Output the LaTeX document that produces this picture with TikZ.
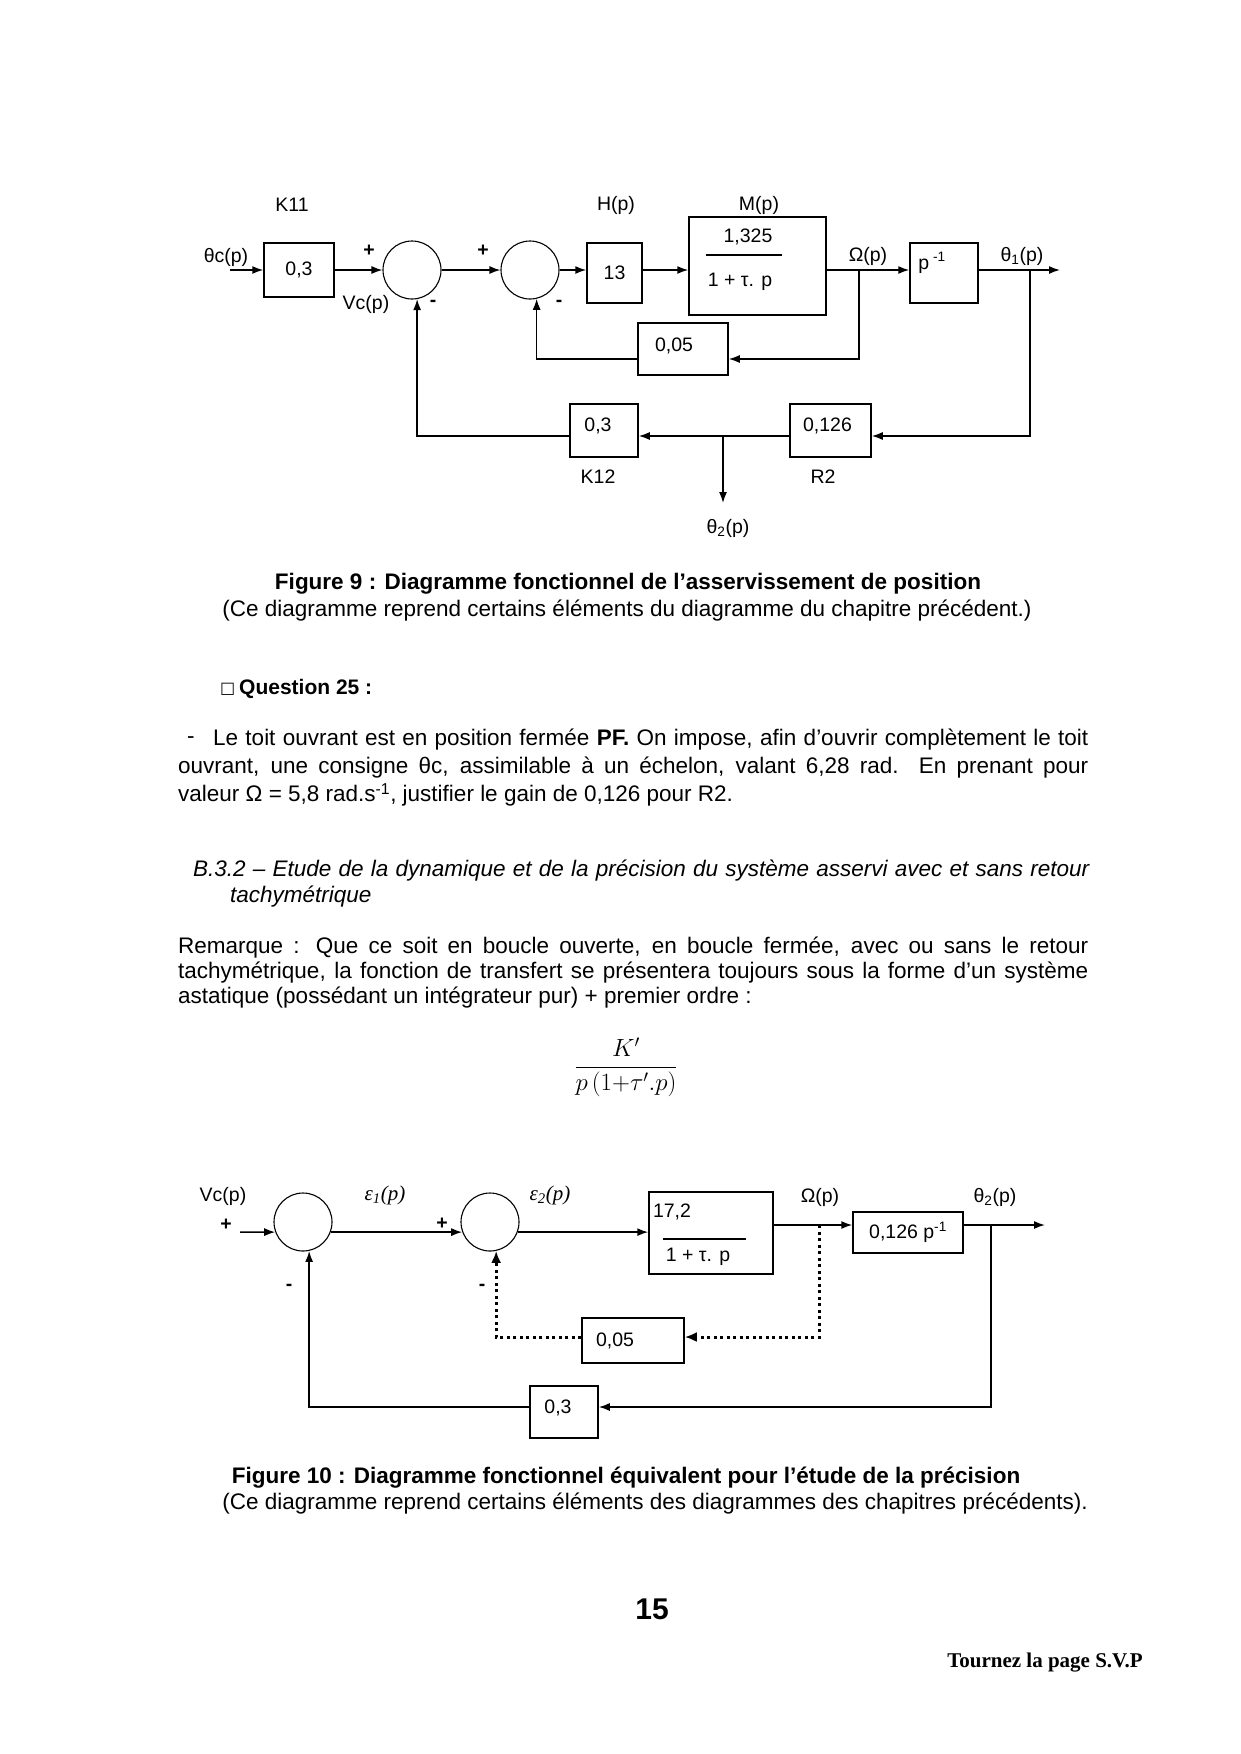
\documentclass[tikz,border=0pt]{standalone}
\usepackage{fontspec}
\setmainfont{Liberation Sans}
\newfontfamily\tnr{Liberation Serif}
\newfontfamily\dvs{DejaVu Sans}
\usetikzlibrary{arrows.meta}
\newcommand\lblf{\fontsize{19.5}{22}\selectfont}
\newcommand\bodyf{\fontsize{22.5}{26}\selectfont}
\tikzset{
  blk/.style={draw, line width=1.5pt, inner sep=0pt, font=\lblf},
  sumc/.style={draw, circle, line width=1.1pt, minimum size=58pt, inner sep=0pt},
  arr/.style={line width=1.5pt, -{Latex[length=11pt,width=8pt]}},
  darr/.style={line width=3pt, dash pattern=on 3pt off 3.5pt, -{Latex[length=12pt,width=10pt]}},
  lab/.style={inner sep=0pt, font=\lblf},
  eps/.style={inner sep=0pt, font=\tnr\itshape\fontsize{21}{24}\selectfont},
  sgn/.style={inner sep=0pt, font=\lblf\bfseries},
  txt/.style={inner sep=0pt, anchor=west, font=\bodyf},
  capt/.style={inner sep=0pt, font=\bodyf},
}
\begin{document}
\begin{tikzpicture}[x=1pt,y=-1pt]
\fill[white] (0,0) rectangle (1240,1754);
\useasboundingbox (0,0) rectangle (1240,1754);

% ---------------- Figure 9 ----------------
\node[blk, minimum width=70pt, minimum height=54pt] (K11) at (299,270) {0,3};
\node[sumc] (S1) at (412,270) {};
\node[sumc] (S2) at (530,270) {};
\node[blk, minimum width=55pt, minimum height=60pt] (H) at (614.5,273) {13};
\node[blk, minimum width=137pt, minimum height=98pt] (M) at (757.5,266) {};
\node[lab] (Mn) at (748,237) {1,325};
\node[lab] (Md) at (740,282) {1 + τ. p};
\draw[line width=1.8pt] (706,255) -- (782,255);
\node[blk, minimum width=68pt, minimum height=60pt,
      label={[lab, xshift=-12pt, yshift=10pt]center:p\textsuperscript{ -1}}] (P) at (944,273) {};
\node[blk, minimum width=90pt, minimum height=52pt,
      label={[lab, xshift=-9pt, yshift=3pt]center:0,05}] (F) at (683,349) {};
\node[blk, minimum width=81pt, minimum height=53pt,
      label={[lab, xshift=-3pt, yshift=5pt]center:0,126}] (R2) at (830.5,430.5) {};
\node[blk, minimum width=68pt, minimum height=53pt,
      label={[lab, xshift=-6pt, yshift=5pt]center:0,3}] (K12) at (604,430.5) {};

\node[lab] at (292,205) {K11};
\node[lab] at (616,205) {H(p)};
\node[lab] at (759,205) {M(p)};
\node[lab] at (226,257) {θc(p)};
\node[lab] at (366,304) {Vc(p)};
\node[lab] at (868,256) {Ω(p)};
\node[lab] at (1022,256) {θ\textsubscript{1}(p)};
\node[lab] at (598,477) {K12};
\node[lab] at (823,477) {R2};
\node[lab] at (728,528) {θ\textsubscript{2}(p)};
\node[sgn] at (369,251) {+};
\node[sgn] at (433,303) {-};
\node[sgn] at (483,251) {+};
\node[sgn] at (559,303) {-};

\coordinate (in0) at (230,270);
\coordinate (out1) at (1060,270);
\coordinate (t1) at (1030,270);
\coordinate (tw) at (859,270);
\coordinate (t2) at (723,436);
\coordinate (out2) at (723,503);
\coordinate (y9) at (0,270);
\coordinate (yr) at (0,436);
\coordinate (yv) at (0,359);

\draw[arr] (in0) -- (K11.west |- y9);
\draw[arr] (K11.east |- y9) -- (S1.west);
\draw[arr] (S1.east) -- (S2.west);
\draw[arr] (S2.east) -- (H.west |- y9);
\draw[arr] (H.east |- y9) -- (M.west |- y9);
\draw[arr] (M.east |- y9) -- (P.west |- y9);
\draw[arr] (P.east |- y9) -- (out1);
\draw[arr] (t1) |- (R2.east |- yr);
\draw[arr] (R2.west |- yr) -- (K12.east |- yr);
\draw[arr] (t2) -- (out2);
\draw[arr] (K12.west |- yr) -| (S1.-80);
\draw[arr] (tw) |- (F.east |- yv);
\draw[arr] (F.west |- yv) -| (S2.-77);

% ---------------- Texts ----------------
\node[capt, font=\bodyf\bfseries] at (628,584) {Figure 9 : Diagramme fonctionnel de l’asservissement de position};
\node[capt] at (627,611) {(Ce diagramme reprend certains éléments du diagramme du chapitre précédent.)};
\node[txt] at (220,689) {\dvs\fontsize{16}{18}\selectfont □};
\node[txt, font=\fontsize{21}{25}\selectfont\bfseries] at (239,689) {Question 25 :};
\node[txt] at (187,740) {-};
\node[txt] at (213,740) {\makebox[875pt][s]{Le toit ouvrant est en position fermée \textbf{PF.} On impose, afin d’ouvrir complètement le toit}};
\node[txt] at (178,768) {\makebox[910pt][s]{ouvrant, une consigne θc, assimilable à un échelon, valant 6,28 rad. En prenant pour}};
\node[txt] at (178,795) {valeur Ω = 5,8 rad.s\textsuperscript{-1}, justifier le gain de 0,126 pour R2.};
\node[txt, font=\bodyf\itshape] at (193,871) {\makebox[896pt][s]{B.3.2 – Etude de la dynamique et de la précision du système asservi avec et sans retour}};
\node[txt, font=\bodyf\itshape] at (230,897) {tachymétrique};
\node[txt] at (178,948) {\makebox[910pt][s]{Remarque : Que ce soit en boucle ouverte, en boucle fermée, avec ou sans le retour}};
\node[txt] at (178,973) {\makebox[910pt][s]{tachymétrique, la fonction de transfert se présentera toujours sous la forme d’un système}};
\node[txt] at (178,998) {astatique (possédant un intégrateur pur) + premier ordre :};
\node[inner sep=0pt] (frm) at (626,1067) {\fontsize{26}{30}\selectfont $\displaystyle\frac{K'}{p\,(1{+}\tau'.p)}$};

% ---------------- Figure 10 ----------------
\node[sumc] (A) at (303,1222) {};
\node[sumc] (B) at (490,1222) {};
\node[blk, minimum width=124pt, minimum height=82pt] (G) at (711,1233) {};
\node[lab] (Gn) at (672,1212) {17,2};
\node[lab] (Gd) at (698,1257) {1 + τ. p};
\draw[line width=1.8pt] (663,1239) -- (746,1239);
\node[blk, minimum width=110pt, minimum height=41pt] (Q) at (908,1232.5) {0,126 p\textsuperscript{-1}};
\node[blk, minimum width=102pt, minimum height=45pt,
      label={[lab, xshift=-18pt]center:0,05}] (D) at (633,1340.5) {};
\node[blk, minimum width=68pt, minimum height=52pt,
      label={[lab, xshift=-6pt, yshift=4pt]center:0,3}] (R) at (564,1412) {};

\node[lab] at (223,1196) {Vc(p)};
\node[sgn] at (226,1225) {+};
\node[eps] at (385,1195) {ε\textsubscript{1}(p)};
\node[sgn] at (442,1224) {+};
\node[eps] at (550,1195) {ε\textsubscript{2}(p)};
\node[lab] at (820,1197) {Ω(p)};
\node[lab] at (995,1197) {θ\textsubscript{2}(p)};
\node[sgn] at (289,1287) {-};
\node[sgn] at (482,1287) {-};

\coordinate (inA) at (240,1232);
\coordinate (y10) at (0,1225);
\coordinate (outQ) at (1045,1225);
\coordinate (tq) at (991,1225);
\coordinate (yb) at (0,1407);
\coordinate (tg) at (819,1225);
\coordinate (yd) at (0,1337);

\draw[arr] (inA) -- (A.200);
\draw[arr] (A.-20) -- (B.200);
\draw[arr] (B.-20) -- (B.-20 -| G.west);
\draw[arr] (G.east |- y10) -- (Q.west |- y10);
\draw[arr] (Q.east |- y10) -- (outQ);
\draw[arr] (tq) |- (R.east |- yb);
\draw[arr] (R.west |- yb) -| (A.-78);
\draw[darr] (tg) |- (D.east |- yd);
\draw[darr] (D.west |- yd) -| (B.-78);

\node[capt, font=\bodyf\bfseries] at (626,1478) {Figure 10 : Diagramme fonctionnel équivalent pour l’étude de la précision};
\node[capt] at (655,1504) {(Ce diagramme reprend certains éléments des diagrammes des chapitres précédents).};
\node[inner sep=0pt, font=\fontsize{30}{34}\selectfont\bfseries] at (652,1609) {15};
\node[inner sep=0pt, font=\tnr\fontsize{21}{24}\selectfont\bfseries] at (1045,1663) {Tournez la page S.V.P};
\end{tikzpicture}
\end{document}
